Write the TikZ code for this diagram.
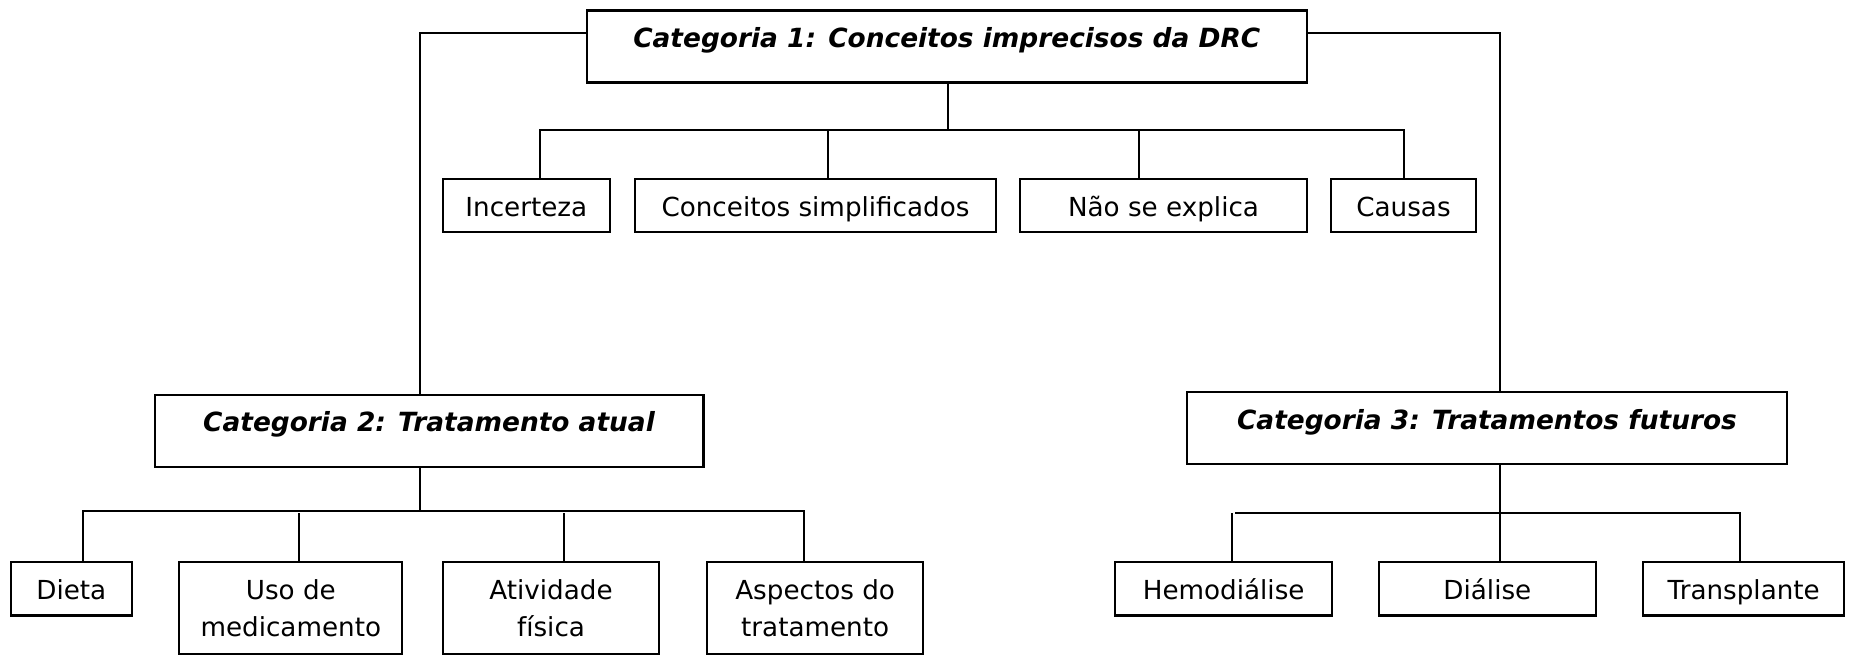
\documentclass[tikz,border=0pt]{standalone}
\usepackage{fontspec}
\setmainfont{DejaVu Sans}[BoldFont={DejaVu Sans Bold},ItalicFont={DejaVu Sans Oblique},BoldItalicFont={DejaVu Sans Bold Oblique}]
\begin{document}
\begin{tikzpicture}[x=0.5pt,y=-0.5pt,
  cat/.style={draw, line width=1.1pt, anchor=north, inner sep=0pt,
    text height=18.6pt, text depth=17.4pt,
    font=\fontsize{13.2}{16}\selectfont\bfseries\itshape},
  leaf/.style={draw, line width=1.1pt, anchor=north, inner sep=0pt,
    text height=18.8pt, text depth=7.9pt,
    font=\fontsize{13.1}{18.7}\selectfont},
  leaftwo/.style={draw, line width=1.1pt, anchor=north, inner sep=0pt,
    align=center, minimum height=45.85pt,
    font=\fontsize{13.1}{18.7}\selectfont},
  link/.style={line width=1pt}]
\useasboundingbox (0,0) rectangle (1851,655);

% Category boxes
\node[cat, minimum width=360pt] (cat1) at (946.75,9.3) {Categoria 1: Conceitos imprecisos da DRC};
\node[cat, minimum width=274.4pt] (cat2) at (429,393.5) {Categoria 2: Tratamento atual};
\node[cat, minimum width=300.3pt] (cat3) at (1487,391) {Categoria 3: Tratamentos futuros};

% Category 1 children
\node[leaf, minimum width=83.7pt] (inc) at (526.35,177.7) {Incerteza};
\node[leaf, minimum width=180.5pt] (con) at (815.5,177.7) {Conceitos simplificados};
\node[leaf, minimum width=143.8pt] (nao) at (1163.5,177.7) {Não se explica};
\node[leaf, minimum width=72.2pt] (cau) at (1403.5,177.7) {Causas};

% Category 2 children
\node[leaf, minimum width=60.35pt] (die) at (71.35,561) {Dieta};
\node[leaftwo, minimum width=111.5pt] (uso) at (290.8,561) {Uso de\\medicamento};
\node[leaftwo, minimum width=108.3pt] (ati) at (551,561) {Atividade\\física};
\node[leaftwo, minimum width=107.85pt] (asp) at (815.15,561) {Aspectos do\\tratamento};

% Category 3 children
\node[leaf, minimum width=108.65pt] (hem) at (1223.65,561) {Hemodiálise};
\node[leaf, minimum width=108.35pt] (dia) at (1487.35,561) {Diálise};
\node[leaf, minimum width=100.65pt] (tra) at (1743.65,561) {Transplante};

% Connectors from category 1 to categories 2 and 3
\draw[link] (cat1.north west |- 0,33) -| (cat2.north -| 420,0);
\draw[link] (cat1.north east |- 0,33) -| (cat3.north -| 1500,0);

% Category 1 tree
\draw[link] (cat1.south -| 948,0) -- (948,129.5);
\draw[link] (inc.north -| 539.5,0) -- (539.5,129.5) -- (1404,129.5) -- (cau.north -| 1404,0);
\draw[link] (827.5,129.5) -- (con.north -| 827.5,0);
\draw[link] (1139,129.5) -- (nao.north -| 1139,0);

% Category 2 tree
\draw[link] (cat2.south -| 420,0) -- (420,510.7);
\draw[link] (die.north -| 82.7,0) -- (82.7,510.7) -- (804,510.7) -- (asp.north -| 804,0);
\draw[link] (299.3,513) -- (uso.north -| 299.3,0);
\draw[link] (564,513) -- (ati.north -| 564,0);

% Category 3 tree
\draw[link] (1500,465) -- (dia.north -| 1500,0);
\draw[link] (hem.north -| 1232,0) -- (1232,513.3);
\draw[link] (1235,513.3) -- (1740,513.3) -- (tra.north -| 1740,0);
\end{tikzpicture}
\end{document}
